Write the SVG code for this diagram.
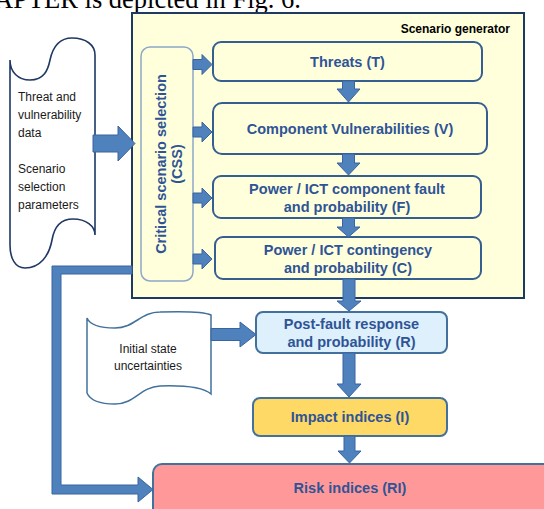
<svg xmlns="http://www.w3.org/2000/svg" width="544" height="509" viewBox="0 0 544 509">
<style>
.box{fill:#FFFFDC;stroke:#365F91;stroke-width:2}
.lbl{font-family:"Liberation Sans",Arial,sans-serif;font-weight:bold;font-size:14.5px;fill:#2F5496;text-anchor:middle}
.reg{font-family:"Liberation Sans",Arial,sans-serif;font-size:12px;fill:#1a1a1a}
.arr{fill:#4F81BD;stroke:#3A64A0;stroke-width:1}
</style>
<rect width="544" height="509" fill="#ffffff"/>
<text x="-6" y="8" font-family="'Liberation Serif','Times New Roman',serif" font-size="26.5" fill="#000">APTER is depicted in Fig. 6.</text>

<g id="generator">
<rect x="132" y="13" width="392" height="285" fill="#FFFFDC" stroke="#1F3A60" stroke-width="2"/>
<text x="510" y="33" font-family="'Liberation Sans',Arial,sans-serif" font-weight="bold" font-size="12" fill="#000" text-anchor="end">Scenario generator</text>
</g>

<g id="css">
<rect x="141" y="47" width="52" height="234" rx="9" fill="#FFFFDC" stroke="#8FA8C8" stroke-width="1.5"/>
<text class="lbl" transform="translate(166,164) rotate(-90)">Critical scenario selection</text>
<text class="lbl" transform="translate(182,164) rotate(-90)">(CSS)</text>
</g>

<g id="threats">
<rect class="box" x="213" y="42" width="269" height="39" rx="8"/>
<text class="lbl" x="347.5" y="67">Threats (T)</text>
</g>

<g id="vulnerabilities">
<rect class="box" x="213" y="103" width="274" height="51" rx="9"/>
<text class="lbl" x="350" y="134">Component Vulnerabilities (V)</text>
</g>

<g id="fault">
<rect class="box" x="213" y="176" width="268" height="42" rx="8"/>
<text class="lbl" x="347" y="194">Power / ICT component fault</text>
<text class="lbl" x="347" y="212">and probability (F)</text>
</g>

<g id="contingency">
<rect class="box" x="215" y="237" width="266" height="42" rx="8"/>
<text class="lbl" x="348" y="255">Power / ICT contingency</text>
<text class="lbl" x="348" y="273">and probability (C)</text>
</g>

<g id="postfault">
<rect x="256" y="312" width="191" height="41" rx="7" fill="#DDF0FB" stroke="#41719C" stroke-width="2"/>
<text class="lbl" x="351.5" y="329">Post-fault response</text>
<text class="lbl" x="351.5" y="347">and probability (R)</text>
</g>

<g id="impact">
<rect x="253" y="398" width="194" height="38" rx="7" fill="#FFD966" stroke="#41719C" stroke-width="2"/>
<text class="lbl" x="350" y="422">Impact indices (I)</text>
</g>

<g id="risk">
<rect x="153" y="464" width="400" height="60" rx="9" fill="#FF9999" stroke="#41719C" stroke-width="2"/>
<text class="lbl" x="350" y="493">Risk indices (RI)</text>
</g>

<g id="data">
<path d="M10,60 C10,72 18,80 30,80 C44,80 48,70 50,60 C53,46 60,38 72,38 C86,38 95,45 95,55 L95,235 C95,226 86,219 73,219 C60,219 54,228 52,240 C49,256 40,268 25,268 C15,268 10,258 10,245 Z" fill="#ffffff" stroke="#1F3864" stroke-width="1.6"/>
<text class="reg" x="18" y="101">Threat and</text>
<text class="reg" x="18" y="119">vulnerability</text>
<text class="reg" x="18" y="137">data</text>
<text class="reg" x="18" y="173">Scenario</text>
<text class="reg" x="18" y="191">selection</text>
<text class="reg" x="18" y="209">parameters</text>
</g>

<g id="initial">
<path d="M87,318 C90,325 100,328 115,328 C135,328 140,312 160,312 C190,311 205,312 211,315 L211,394 C205,389 190,385 160,386 C140,387 135,404 115,404 C100,404 90,400 87,393 Z" fill="#ffffff" stroke="#41719C" stroke-width="1.5"/>
<text class="reg" x="148" y="353" text-anchor="middle">Initial state</text>
<text class="reg" x="148" y="370" text-anchor="middle">uncertainties</text>
</g>

<g id="connectors">
<polygon class="arr" points="93,135 118,135 118,126 135,143.5 118,161 118,152 93,152"/>
<polygon class="arr" points="193,59.5 202,59.5 202,54.5 212,64.5 202,74.5 202,69.5 193,69.5"/>
<polygon class="arr" points="193,127 202,127 202,122 212,132 202,142 202,137 193,137"/>
<polygon class="arr" points="193,193 202,193 202,188 212,198 202,208 202,203 193,203"/>
<polygon class="arr" points="193,254 202,254 202,249 212,259 202,269 202,264 193,264"/>
<polygon class="arr" points="342.5,81 354.5,81 354.5,89 360,89 348.5,102 337,89 342.5,89"/>
<polygon class="arr" points="342.5,154 354.5,154 354.5,163 360,163 348.5,175 337,163 342.5,163"/>
<polygon class="arr" points="342.5,218 354.5,218 354.5,227 360,227 348.5,237 337,227 342.5,227"/>
<polygon class="arr" points="343,279 355,279 355,301 361,301 349,311 337,301 343,301"/>
<polygon class="arr" points="343,353 355,353 355,384 361,384 349,397 337,384 343,384"/>
<polygon class="arr" points="344,436 355,436 355,451 361,451 349.5,463 338,451 344,451"/>
<polygon class="arr" points="211,328.5 240,328.5 240,322 256,334.5 240,347 240,340.5 211,340.5"/>
<polygon class="arr" points="132,266 52,266 52,494 138,494 138,502 153,489.5 138,477 138,485 61,485 61,274 132,274"/>
</g>
</svg>
